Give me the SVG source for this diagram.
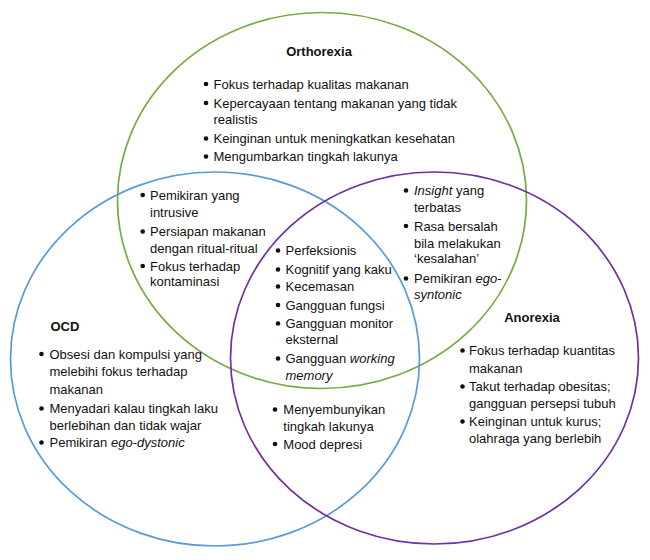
<svg xmlns="http://www.w3.org/2000/svg" width="650" height="560" viewBox="0 0 650 560">
<style>
.c{fill:none;stroke-width:1.7}
.t{font-family:"Liberation Sans",Arial,sans-serif;font-size:13px;fill:#111}
.h{font-family:"Liberation Sans",Arial,sans-serif;font-size:13px;font-weight:bold;fill:#111}
.i{font-style:italic}
.b{fill:#111}
</style>
<rect width="650" height="560" fill="#fff"/>
<g id="orthorexia">
<ellipse class="c" cx="322" cy="200.5" rx="204.5" ry="188" stroke="#77AB43"/>
<text class="h" x="319" y="56" text-anchor="middle">Orthorexia</text>
<g class="b"><circle cx="206" cy="84" r="2.3"/><circle cx="206" cy="103" r="2.3"/><circle cx="206" cy="138.5" r="2.3"/><circle cx="206" cy="156.5" r="2.3"/></g>
<text class="t" x="213.5" y="88.5">Fokus terhadap kualitas makanan</text>
<text class="t" x="213.5" y="107.5">Kepercayaan tentang makanan yang tidak</text>
<text class="t" x="213.5" y="124">realistis</text>
<text class="t" x="213.5" y="143">Keinginan untuk meningkatkan kesehatan</text>
<text class="t" x="213.5" y="161">Mengumbarkan tingkah lakunya</text>
</g>
<g id="ocd">
<ellipse class="c" cx="215" cy="359" rx="204.5" ry="187" stroke="#5B9BD5"/>
<text class="h" x="50.5" y="330.5">OCD</text>
<g class="b"><circle cx="41.5" cy="354" r="2.3"/><circle cx="41.5" cy="408.5" r="2.3"/><circle cx="41.5" cy="442.5" r="2.3"/></g>
<text class="t" x="49.5" y="358.5">Obsesi dan kompulsi yang</text>
<text class="t" x="49.5" y="376">melebihi fokus terhadap</text>
<text class="t" x="49.5" y="393.5">makanan</text>
<text class="t" x="49.5" y="413">Menyadari kalau tingkah laku</text>
<text class="t" x="49.5" y="429.5">berlebihan dan tidak wajar</text>
<text class="t" x="49.5" y="447">Pemikiran <tspan class="i">ego-dystonic</tspan></text>
</g>
<g id="anorexia">
<ellipse class="c" cx="434.5" cy="358" rx="204" ry="186" stroke="#7030A0"/>
<text class="h" x="532" y="322" text-anchor="middle">Anorexia</text>
<g class="b"><circle cx="462.5" cy="350.5" r="2.3"/><circle cx="462.5" cy="386.5" r="2.3"/><circle cx="462.5" cy="421.5" r="2.3"/></g>
<text class="t" x="469" y="355">Fokus terhadap kuantitas</text>
<text class="t" x="469" y="373">makanan</text>
<text class="t" x="469" y="391">Takut terhadap obesitas;</text>
<text class="t" x="469" y="408">gangguan persepsi tubuh</text>
<text class="t" x="469" y="426">Keinginan untuk kurus;</text>
<text class="t" x="469" y="443">olahraga yang berlebih</text>
</g>
<g id="ortho-ocd">
<g class="b"><circle cx="142.7" cy="195" r="2.3"/><circle cx="142.7" cy="231.5" r="2.3"/><circle cx="142.7" cy="266" r="2.3"/></g>
<text class="t" x="150" y="199.5">Pemikiran yang</text>
<text class="t" x="150" y="216.8">intrusive</text>
<text class="t" x="150" y="236">Persiapan makanan</text>
<text class="t" x="150" y="253">dengan ritual-ritual</text>
<text class="t" x="150" y="270.5">Fokus terhadap</text>
<text class="t" x="150" y="286">kontaminasi</text>
</g>
<g id="ortho-anorexia">
<g class="b"><circle cx="406" cy="190.5" r="2.3"/><circle cx="406" cy="226" r="2.3"/><circle cx="406" cy="278.5" r="2.3"/></g>
<text class="t" x="414" y="195"><tspan class="i">Insight</tspan> yang</text>
<text class="t" x="414" y="212">terbatas</text>
<text class="t" x="414" y="230.5">Rasa bersalah</text>
<text class="t" x="414" y="248">bila melakukan</text>
<text class="t" x="414" y="263">‘kesalahan’</text>
<text class="t" x="414" y="283">Pemikiran <tspan class="i">ego-</tspan></text>
<text class="t i" x="414" y="298.5">syntonic</text>
</g>
<g id="all-three">
<g class="b"><circle cx="278" cy="250.5" r="2.3"/><circle cx="278" cy="269.5" r="2.3"/><circle cx="278" cy="286.5" r="2.3"/><circle cx="278" cy="305" r="2.3"/><circle cx="278" cy="323.5" r="2.3"/><circle cx="278" cy="358.5" r="2.3"/></g>
<text class="t" x="285.5" y="255">Perfeksionis</text>
<text class="t" x="285.5" y="274">Kognitif yang kaku</text>
<text class="t" x="285.5" y="291">Kecemasan</text>
<text class="t" x="285.5" y="309.5">Gangguan fungsi</text>
<text class="t" x="285.5" y="328">Gangguan monitor</text>
<text class="t" x="285.5" y="344">eksternal</text>
<text class="t" x="285.5" y="363">Gangguan <tspan class="i">working</tspan></text>
<text class="t i" x="285.5" y="379.5">memory</text>
</g>
<g id="ocd-anorexia">
<g class="b"><circle cx="275" cy="409.5" r="2.3"/><circle cx="275" cy="444" r="2.3"/></g>
<text class="t" x="283.3" y="414">Menyembunyikan</text>
<text class="t" x="283.3" y="431">tingkah lakunya</text>
<text class="t" x="283.3" y="448.5">Mood depresi</text>
</g>
</svg>
